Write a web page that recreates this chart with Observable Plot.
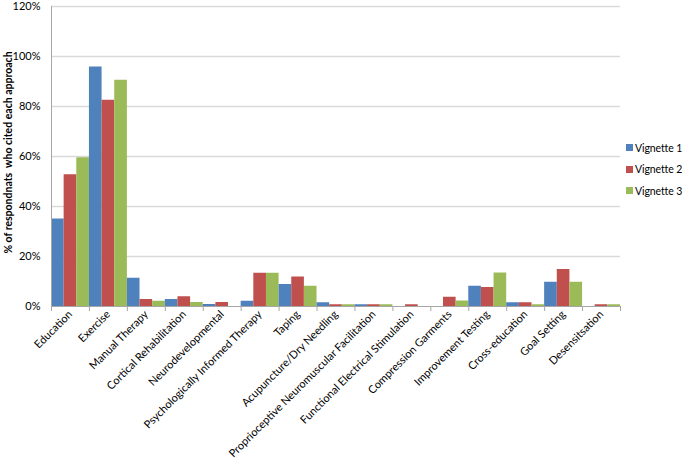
<!DOCTYPE html>
<html><head><meta charset="utf-8">
<script src="https://cdn.jsdelivr.net/npm/d3@7"></script>
<script src="https://cdn.jsdelivr.net/npm/@observablehq/plot@0.6"></script>
<style>
body{margin:0;background:#fff;font-family:Lato,"Open Sans",sans-serif;}
#wrap{position:relative;width:685px;height:462px;overflow:hidden}
#legend{position:absolute;left:626px;top:137px;font-size:10.5px;color:#000;font-family:Lato,sans-serif;letter-spacing:-0.1px}
.item{display:flex;align-items:center;height:21.5px;white-space:nowrap}
.sw{width:7px;height:7px;margin-right:2px;flex:none}
</style></head><body>
<div id="wrap"><div id="chart"></div><div id="legend"></div></div>
<script>
const categories = ["Education","Exercise","Manual Therapy","Cortical Rehabilitation","Neurodevelopmental","Psychologically Informed Therapy","Taping","Acupuncture/Dry Needling","Proprioceptive Neuromuscular Facilitation","Functional Electrical Stimulation","Compression Garments","Improvement Testing","Cross-education","Goal Setting","Desensitsation"];
const vignette1 = [0.35,0.958,0.113,0.028,0.008,0.021,0.088,0.015,0.007,0,0,0.081,0.015,0.097,0];
const vignette2 = [0.527,0.825,0.028,0.039,0.016,0.133,0.118,0.007,0.007,0.007,0.037,0.076,0.015,0.148,0.007];
const vignette3 = [0.595,0.905,0.021,0.016,0,0.133,0.081,0.007,0.007,0,0.022,0.134,0.007,0.097,0.007];
const seriesNames = ["Vignette 1","Vignette 2","Vignette 3"];
const seriesColors = ["#4F81BD","#C0504D","#9BBB59"];
const yTicks = [0,0.2,0.4,0.6,0.8,1.0,1.2];
const yLabel = "% of respondnats  who cited each approach";

const seriesValues = [vignette1, vignette2, vignette3];
const rows = [];
categories.forEach((c,i)=>{
  seriesValues.forEach((vals,j)=>{
    rows.push({category:c, series:seriesNames[j], value:vals[i], x1:i+j/3, x2:i+(j+1)/3});
  });
});

const chart = Plot.plot({
  width: 620, height: 462,
  marginLeft: 51, marginRight: 0, marginTop: 6, marginBottom: 156,
  style: {fontFamily: "Lato, sans-serif", fontSize: "11px", color: "#000", background: "#fff", overflow: "visible"},
  x: {domain: [0, categories.length], axis: null},
  y: {domain: [0, 1.2], axis: null},
  color: {domain: seriesNames, range: seriesColors},
  marks: [
    Plot.gridY(yTicks.slice(1), {stroke: "#d9d9d9", strokeOpacity: 1, strokeWidth: 1.5}),
    Plot.rect(rows, {x1: "x1", x2: "x2", y1: d => 0, y2: "value", fill: "series"}),
    Plot.ruleX([0], {stroke: "#a6a6a6"}),
    Plot.ruleY([0], {stroke: "#a6a6a6"}),
    Plot.axisY(yTicks, {tickFormat: d => Math.round(d*100) + "%", tickSize: 0, tickPadding: 11, label: null}),
    Plot.axisX(d3.range(categories.length + 1), {tickFormat: () => "", tickSize: 5, stroke: "#a6a6a6", strokeOpacity: 1, label: null}),
    Plot.axisX(categories.map((c,i) => i + 0.5), {tickFormat: d => categories[Math.floor(d)], tickSize: 0, tickPadding: 6, tickRotate: -45, label: null}),
    Plot.text([yLabel], {frameAnchor: "left", textAnchor: "middle", rotate: -90, dx: -43, dy: -4, fontWeight: "bold", fontSize: 10.5})
  ]
});
document.getElementById("chart").appendChild(chart);

const legend = document.getElementById("legend");
seriesNames.forEach((n,j)=>{
  const it = document.createElement("div"); it.className = "item";
  const sw = document.createElement("span"); sw.className = "sw"; sw.style.background = seriesColors[j];
  const tx = document.createElement("span"); tx.textContent = n;
  it.appendChild(sw); it.appendChild(tx); legend.appendChild(it);
});
</script>
</body></html>
